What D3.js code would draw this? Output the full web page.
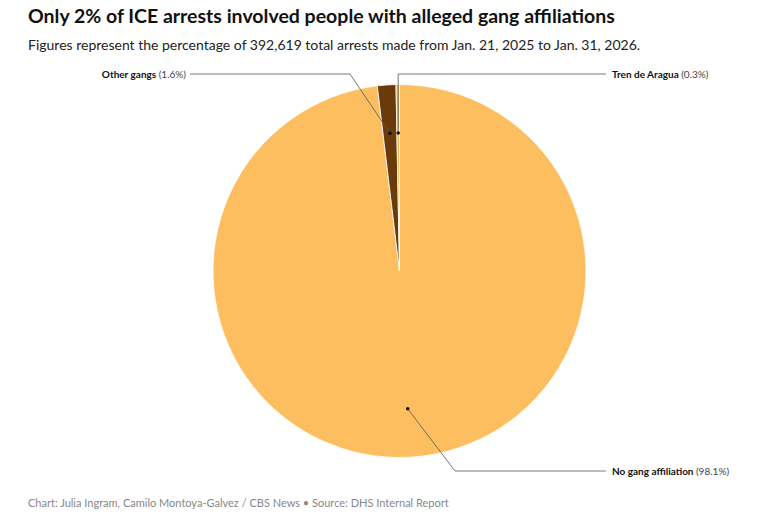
<!DOCTYPE html><html><head><meta charset="utf-8"><script src="https://cdn.jsdelivr.net/npm/d3@7"></script>
<style>body{margin:0;background:#fff;font-family:Lato,"Noto Sans",sans-serif}</style></head><body><svg id="c" width="777" height="518"></svg>
<script>
const categories=["No gang affiliation","Other gangs","Tren de Aragua"];
const values=[98.1,1.6,0.3];
const colors=["#fdbe5f","#6b3a0b","#f7b458"];
const svg=d3.select("#c");
svg.append("text").attr("x",28).attr("y",23).attr("font-size",19.5).attr("font-weight",700).attr("fill","#111").text("Only 2% of ICE arrests involved people with alleged gang affiliations");
svg.append("text").attr("x",28).attr("y",50).attr("font-size",14).attr("fill","#222").text("Figures represent the percentage of 392,619 total arrests made from Jan. 21, 2025 to Jan. 31, 2026.");
svg.append("text").attr("x",28).attr("y",507).attr("font-size",11).attr("fill","#888").text("Chart: Julia Ingram, Camilo Montoya-Galvez / CBS News • Source: DHS Internal Report");
const cx=399.5,cy=271,R=186.5;
const data=categories.map((c,i)=>({c,v:values[i],col:colors[i]}));
const pie=d3.pie().value(d=>d.v).sort(null);
const arcs=pie(data);
const arc=d3.arc().innerRadius(0).outerRadius(R);
const g=svg.append("g").attr("transform",`translate(${cx},${cy})`);
g.selectAll("path").data(arcs).join("path").attr("d",arc).attr("fill",d=>d.data.col).attr("stroke","#fff").attr("stroke-width",0.8);
const pos=d=>{const a=(d.startAngle+d.endAngle)/2;const rr=R*0.74;return [cx+rr*Math.sin(a),cy-rr*Math.cos(a)];};
const labels=[
 {i:0,ly:471,side:"r",bend:455},
 {i:1,ly:74,side:"l",bend:350},
 {i:2,ly:74,side:"r",bend:null}];
labels.forEach(L=>{
 const d=arcs[L.i];const [px,py]=pos(d);
 let pts;
 if(L.side==="r"){const bx=L.bend===null?px:L.bend;pts=[[px,py],[bx,L.ly],[606,L.ly]];}
 else pts=[[px,py],[L.bend,L.ly],[190,L.ly]];
 svg.append("path").attr("d",d3.line()(pts)).attr("fill","none").attr("stroke","#555").attr("stroke-width",0.8);
 svg.append("circle").attr("cx",px).attr("cy",py).attr("r",1.8).attr("fill","#111");
 const t=svg.append("text").attr("y",L.ly+3.5).attr("font-size",10).attr("fill","#111");
 if(L.side==="r")t.attr("x",612);else t.attr("x",186).attr("text-anchor","end");
 t.append("tspan").attr("font-weight",700).text(d.data.c+" ");
 t.append("tspan").attr("fill","#444").text(`(${d.data.v}%)`);
});
</script></body></html>
